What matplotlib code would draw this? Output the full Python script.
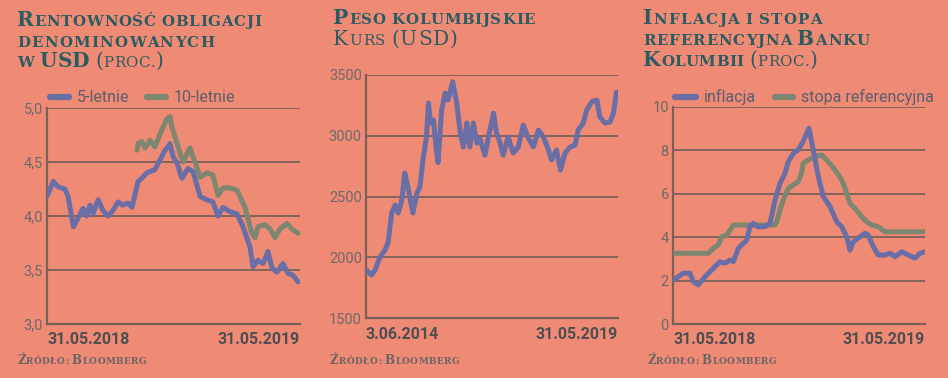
import matplotlib
matplotlib.use("Agg")
import matplotlib.pyplot as plt
from matplotlib.lines import Line2D

# ---------------- data ----------------
# Panel 1: bond yields (months since 31.05.2018)
p1_x_5y = [0.0,0.3,0.52,0.85,1.0,1.25,1.47,1.71,1.88,2.04,2.18,2.42,2.66,2.89,3.13,3.37,3.6,3.84,4.03,4.32,
           4.5,4.74,5.12,5.36,5.6,5.74,5.83,5.98,6.17,6.4,6.69,6.93,7.26,7.59,7.87,8.11,8.35,8.68,9.01,9.3,
           9.63,9.77,10.0,10.25,10.48,10.67,10.91,11.19,11.43,11.67,11.91]
p1_y_5y = [4.18,4.32,4.27,4.25,4.18,3.90,3.98,4.07,4.0,4.1,4.02,4.15,4.05,4.0,4.05,4.13,4.1,4.12,4.08,4.32,
           4.35,4.4,4.43,4.52,4.61,4.64,4.67,4.55,4.49,4.35,4.44,4.41,4.18,4.15,4.13,4.0,4.08,4.04,4.02,3.9,
           3.71,3.53,3.59,3.56,3.67,3.52,3.48,3.56,3.47,3.45,3.39]
p1_x_10y = [4.27,4.32,4.5,4.65,4.89,5.12,5.45,5.69,5.83,5.93,6.17,6.45,6.78,7.02,7.26,7.59,7.87,8.11,8.35,8.68,
            9.01,9.39,9.72,9.87,10.0,10.34,10.58,10.81,11.05,11.38,11.62,11.91]
p1_y_10y = [4.61,4.67,4.69,4.63,4.70,4.64,4.80,4.90,4.92,4.82,4.67,4.5,4.63,4.5,4.36,4.4,4.38,4.19,4.26,4.26,
            4.24,4.08,3.84,3.8,3.9,3.92,3.88,3.8,3.88,3.93,3.88,3.84]
p1_yticks = [3.0, 3.5, 4.0, 4.5, 5.0]
p1_ytick_labels = ["3,0", "3,5", "4,0", "4,5", "5,0"]
p1_xlabels = ["31.05.2018", "31.05.2019"]
p1_legend = ["5-letnie", "10-letnie"]

# Panel 2: COP per USD (decimal years)
p2_x = [2014.43,2014.53,2014.6,2014.7,2014.8,2014.86,2014.93,2015.0,2015.06,2015.13,2015.19,2015.25,2015.35,
        2015.43,2015.49,2015.55,2015.62,2015.66,2015.7,2015.76,2015.81,2015.85,2015.92,2015.99,2016.05,2016.14,
        2016.22,2016.29,2016.35,2016.42,2016.48,2016.55,2016.62,2016.68,2016.78,2016.85,2016.95,2017.01,2017.08,
        2017.14,2017.24,2017.34,2017.44,2017.54,2017.64,2017.74,2017.84,2017.94,2018.04,2018.1,2018.2,2018.28,
        2018.37,2018.47,2018.57,2018.63,2018.73,2018.8,2018.9,2019.0,2019.06,2019.16,2019.26,2019.33,2019.39]
p2_y = [1895,1854,1895,2005,2060,2128,2364,2430,2364,2470,2693,2580,2364,2529,2580,2800,2990,3270,3105,3130,
        2907,2780,3212,3350,3294,3445,3270,3023,2907,3105,2907,3105,2940,2975,2840,2990,3185,3023,2940,2840,
        2990,2858,2907,3088,2982,2907,3047,2990,2883,2800,2883,2718,2858,2907,2924,3047,3105,3212,3280,3294,
        3155,3105,3113,3185,3360]
p2_yticks = [1500, 2000, 2500, 3000, 3500]
p2_xlabels = ["3.06.2014", "31.05.2019"]

# Panel 3: inflation and policy rate (months)
p3_x_inf = [0.07,1.26,2.45,4.05,4.83,6.02,7.62,9.6,11.19,12.38,13.57,14.36,15.55,16.74,17.55,18.33,19.12,20.31,
            21.9,23.1,24.29,25.48,26.67,27.45,28.64,29.83,30.95,32.38,33.4,34.6,35.79,37.38,38.98,40.17,41.36,
            42.14,42.93,44.52,45.71,46.5,47.69,48.88,50.48,51.67,52.86,54.45,56.02,57.62,58.81,60]
p3_y_inf = [2.03,2.18,2.34,2.34,1.95,1.80,2.18,2.57,2.87,2.80,2.95,2.87,3.49,3.72,3.87,4.48,4.64,4.48,4.48,4.64,
            5.71,6.48,6.94,7.48,7.86,8.02,8.4,9.02,8.02,6.79,5.87,5.41,4.71,4.48,4.02,3.41,3.79,4.02,4.18,4.10,
            3.56,3.18,3.18,3.26,3.10,3.33,3.18,3.03,3.26,3.33]
p3_x_rate = [0.07,8.4,9.6,10.79,11.6,12.79,14.36,24.29,24.76,25.48,26.26,27.45,28.64,29.83,30.64,31.0,32.21,
             33.81,35.4,36.98,38.57,40.17,40.95,42.14,43.33,44.93,46.12,47.31,48.88,50.48,60]
p3_y_rate = [3.26,3.26,3.49,3.64,4.02,4.10,4.56,4.56,4.75,5.25,5.71,6.25,6.41,6.56,7.0,7.40,7.56,7.71,7.79,7.48,
             7.10,6.64,6.25,5.56,5.33,4.94,4.71,4.56,4.48,4.25,4.25]
p3_yticks = [0, 2, 4, 6, 8, 10]
p3_xlabels = ["31.05.2018", "31.05.2019"]
p3_legend = ["inflacja", "stopa referencyjna"]

# ---------------- style ----------------
BG = "#EF8A74"
BLUE = "#6A6EA6"
GRAY = "#7D8670"
GRID = "#7A615A"
TEAL = "#2B5C62"
TICK = "#6E6A6A"
XLAB = "#4E4E52"
SRC = "#6B6565"
LW = 3.6

W, H = 948, 378
fig = plt.figure(figsize=(W / 100, H / 100), dpi=100, facecolor=BG)


def fx(px):
    return px / W


def fy(py):
    return 1 - py / H


def make_ax(left, right, top, bottom):
    ax = fig.add_axes([fx(left), fy(bottom), fx(right) - fx(left), fy(top) - fy(bottom)])
    ax.set_facecolor(BG)
    for s in ["top", "right"]:
        ax.spines[s].set_visible(False)
    for s in ["left", "bottom"]:
        ax.spines[s].set_color(GRID)
        ax.spines[s].set_linewidth(1.6)
    ax.tick_params(axis="both", length=0)
    ax.tick_params(axis="y", colors=TICK, labelsize=10.5, pad=3)
    ax.grid(axis="y", color=GRID, linewidth=1.3)
    ax.set_axisbelow(True)
    ax.set_xticks([])
    return ax


def xlabels(ax, labels):
    ax.text(0, -0.035, labels[0], transform=ax.transAxes, ha="left", va="top",
            fontsize=11.5, fontweight="bold", color=XLAB, family="Roboto")
    ax.text(1, -0.035, labels[1], transform=ax.transAxes, ha="right", va="top",
            fontsize=11.5, fontweight="bold", color=XLAB, family="Roboto")


renderer = fig.canvas.get_renderer()


def seg_line(x_px, y_px, segs, color, spacing=0.0, family="DejaVu Serif"):
    """segs: list of (text, size, weight) or ('_', gap_px). Characters drawn one by one."""
    x = x_px
    for seg in segs:
        if seg[0] == "_":
            x += seg[1]
            continue
        txt, size, weight = seg
        for ch in txt:
            t = fig.text(fx(x), fy(y_px), ch, fontsize=size, fontweight=weight, color=color,
                         family=family, ha="left", va="baseline")
            bb = t.get_window_extent(renderer)
            x += bb.width + 0.4 + spacing


BIG, SMALL = 14.5, 10.8


def title_word(word, bold="bold", big_first=True):
    if big_first:
        return [(word[0], BIG, bold), (word[1:], SMALL, bold)]
    return [(word, SMALL, bold)]


SP = ("_", 5)

# ---------------- panel 1 ----------------
ax1 = make_ax(47, 300, 108, 324)
ax1.plot(p1_x_10y, p1_y_10y, color=GRAY, lw=LW, solid_joinstyle="round", solid_capstyle="round", zorder=3)
ax1.plot(p1_x_5y, p1_y_5y, color=BLUE, lw=LW, solid_joinstyle="round", solid_capstyle="round", zorder=4)
ax1.set_xlim(0, 12)
ax1.set_ylim(3.0, 5.0)
ax1.set_yticks(p1_yticks)
ax1.set_yticklabels(p1_ytick_labels, family="Roboto")
xlabels(ax1, p1_xlabels)

# ---------------- panel 2 ----------------
ax2 = make_ax(366, 618, 75, 318)
ax2.plot(p2_x, p2_y, color=BLUE, lw=LW, solid_joinstyle="round", solid_capstyle="round", zorder=4)
ax2.set_xlim(2014.42, 2019.42)
ax2.set_ylim(1500, 3500)
ax2.set_yticks(p2_yticks)
ax2.set_yticklabels([str(v) for v in p2_yticks], family="Roboto")
xlabels(ax2, p2_xlabels)

# ---------------- panel 3 ----------------
ax3 = make_ax(673, 925, 107, 324)
ax3.plot(p3_x_rate, p3_y_rate, color=GRAY, lw=LW, solid_joinstyle="round", solid_capstyle="round", zorder=3)
ax3.plot(p3_x_inf, p3_y_inf, color=BLUE, lw=LW, solid_joinstyle="round", solid_capstyle="round", zorder=4)
ax3.set_xlim(0, 60)
ax3.set_ylim(0, 10)
ax3.set_yticks(p3_yticks)
ax3.set_yticklabels([str(v) for v in p3_yticks], family="Roboto")
xlabels(ax3, p3_xlabels)


# ---------------- legends ----------------
def legend_item(x0, x1, y, color, label):
    fig.add_artist(Line2D([fx(x0), fx(x1)], [fy(y), fy(y)], color=color, lw=4.5,
                          solid_capstyle="round", transform=fig.transFigure))
    fig.text(fx(x1 + 8), fy(y), label, fontsize=11.5, color="#5B5F6E", family="Roboto",
             ha="left", va="center")


legend_item(50, 69, 97, BLUE, p1_legend[0])
legend_item(147, 166, 97, GRAY, p1_legend[1])
legend_item(675, 696, 97, BLUE, p3_legend[0])
legend_item(775, 793, 97, GRAY, p3_legend[1])

# ---------------- titles ----------------
seg_line(17, 26, title_word("RENTOWNOŚĆ") + [SP] + title_word("OBLIGACJI", big_first=False), TEAL, 0.3)
seg_line(17, 47, title_word("DENOMINOWANYCH", big_first=False), TEAL, 0.9)
seg_line(17, 67, title_word("W", big_first=False) + [SP, ("USD", BIG, "bold"), SP,
                                                     ("(", BIG, "normal"), ("PROC.", SMALL, "normal"),
                                                     (")", BIG, "normal")], TEAL, 0.0)

seg_line(333, 24, title_word("PESO") + [SP] + title_word("KOLUMBIJSKIE", big_first=False), TEAL, 0.3)
seg_line(333, 45, [("K", BIG, "normal"), ("URS", SMALL, "normal"), SP, ("(USD)", BIG, "normal")], TEAL, 0.5)

seg_line(643, 24, title_word("INFLACJA") + [SP] + title_word("I", big_first=False) + [SP]
         + title_word("STOPA", big_first=False), TEAL, 0.9)
seg_line(643, 45, title_word("REFERENCYJNA", big_first=False) + [SP] + title_word("BANKU"), TEAL, 0.5)
seg_line(643, 66, title_word("KOLUMBII") + [SP, ("(", BIG, "normal"), ("PROC.", SMALL, "normal"),
                                            (")", BIG, "normal")], TEAL, 0.0)

# ---------------- sources ----------------
for x0 in (17, 330, 647):
    seg_line(x0, 364, [("Ź", 8.6, "bold"), ("RÓDŁO:", 6.4, "bold"), ("_", 3),
                       ("B", 8.6, "bold"), ("LOOMBERG", 6.4, "bold")], SRC, 0.0)

fig.savefig("out.png", dpi=100, facecolor=BG)
